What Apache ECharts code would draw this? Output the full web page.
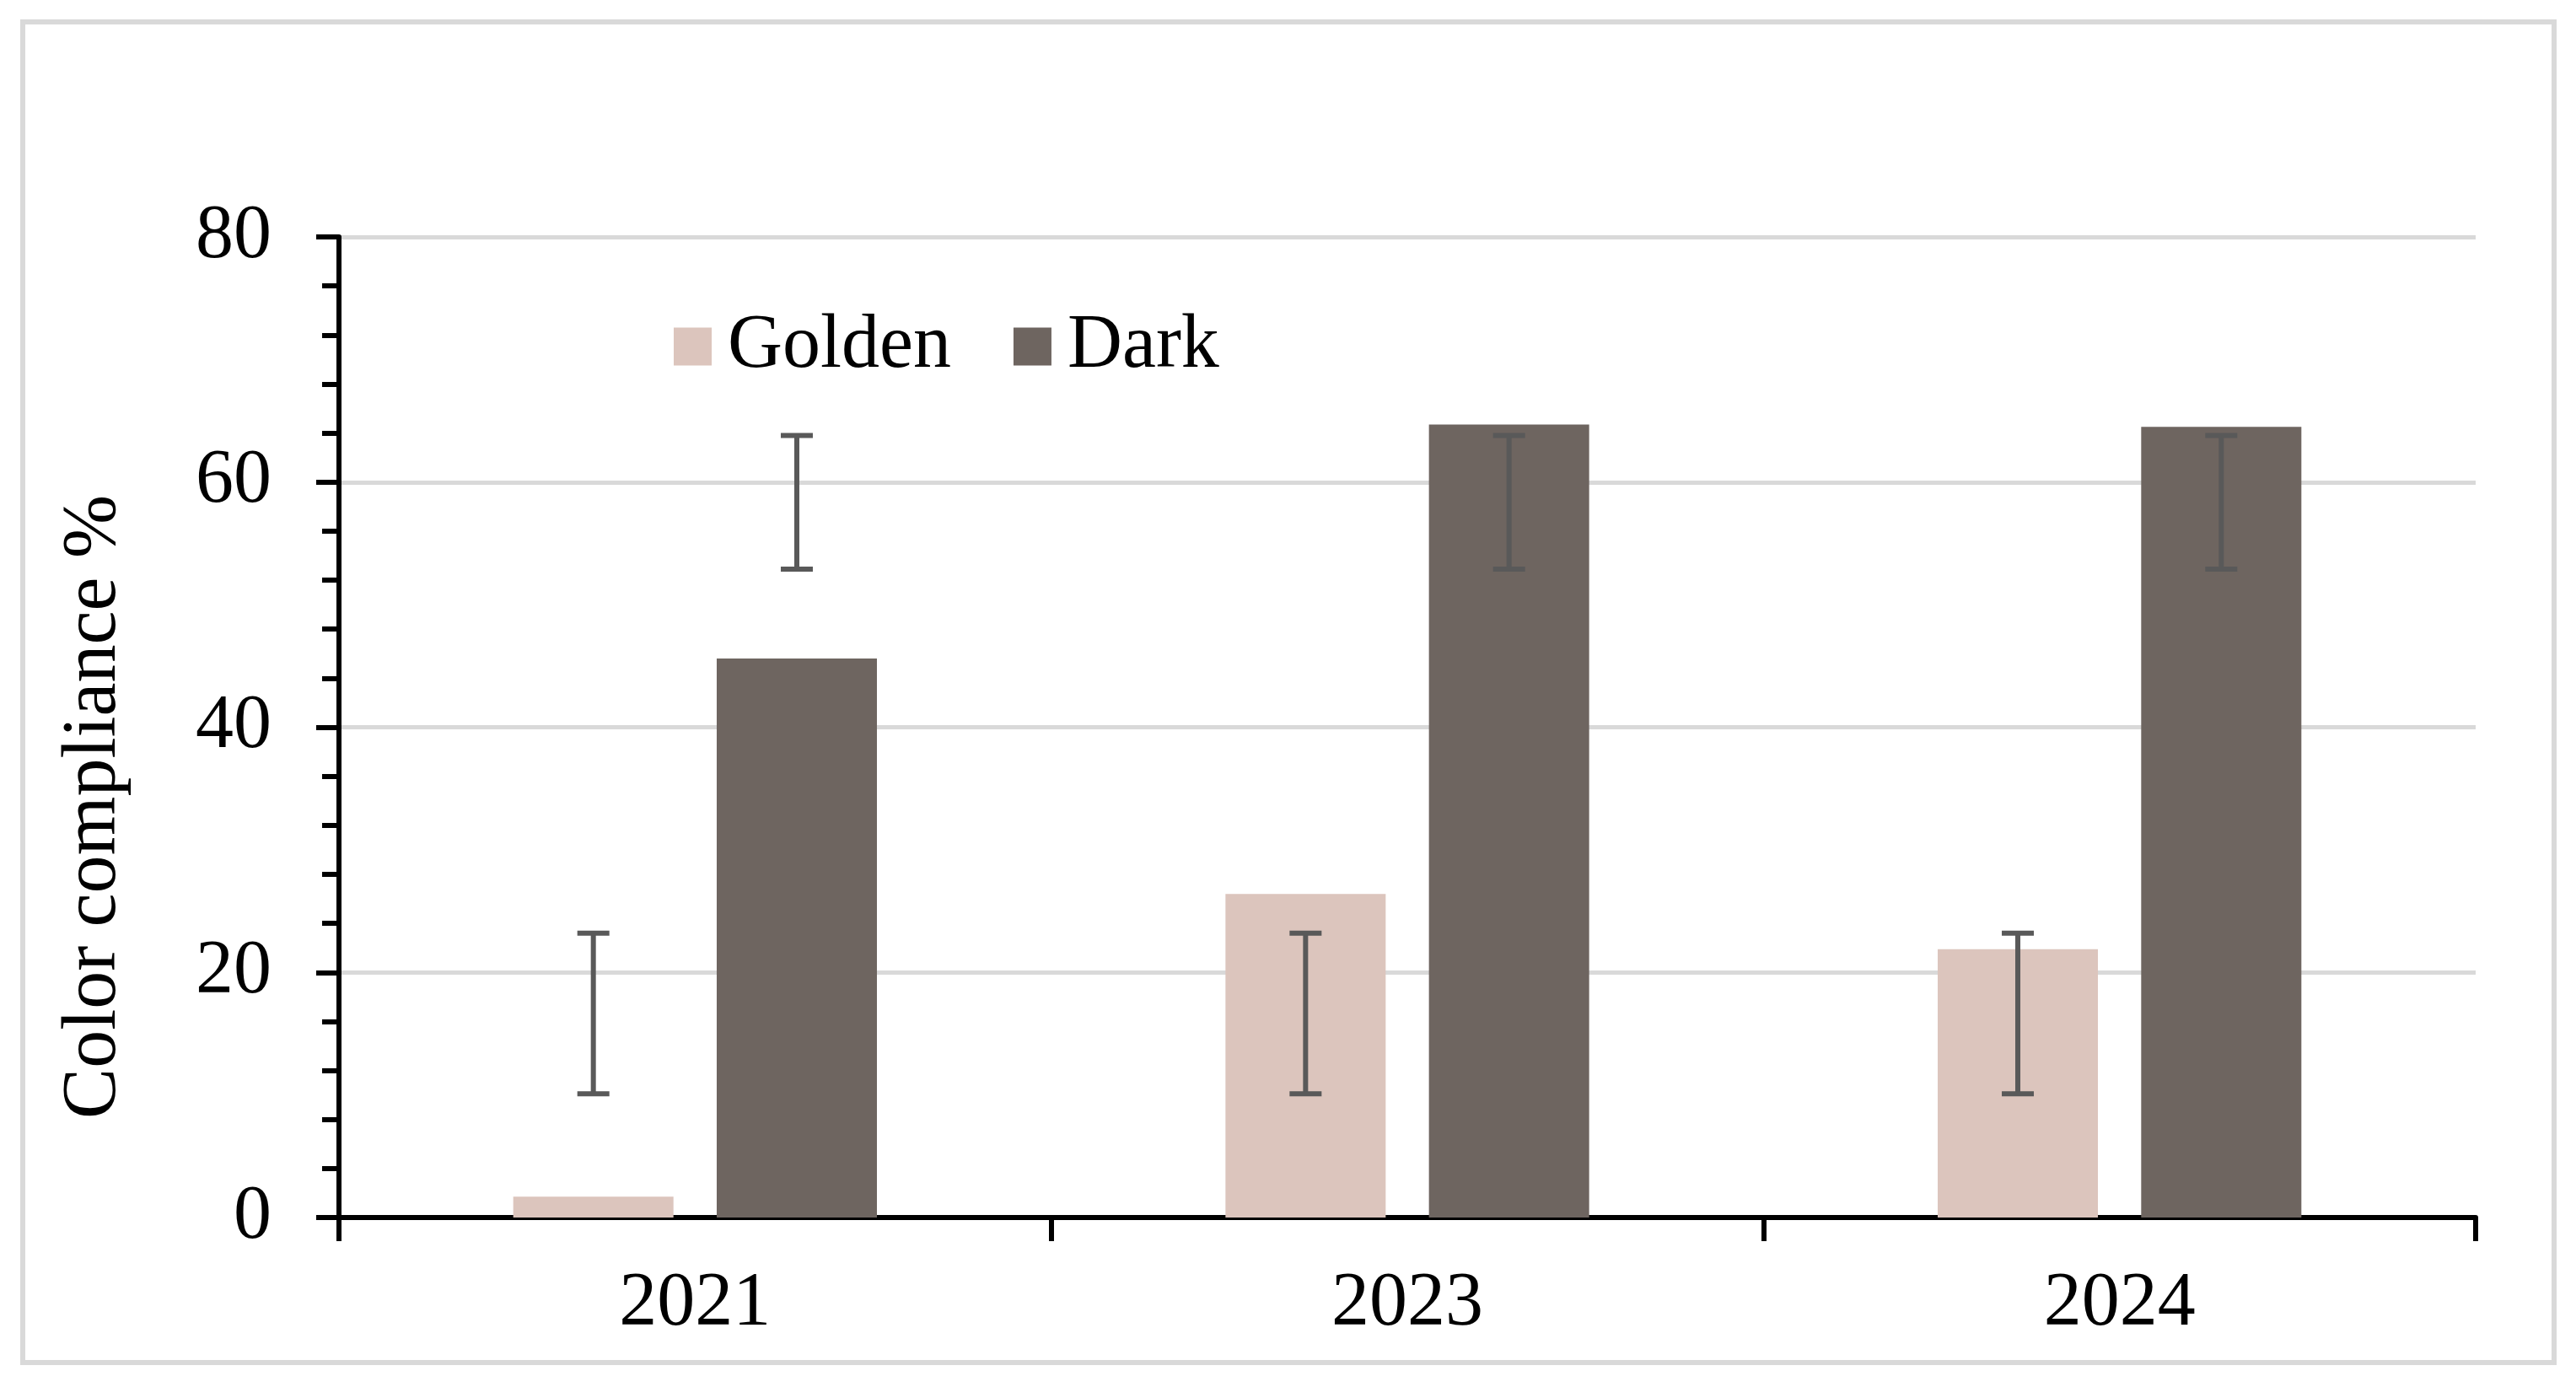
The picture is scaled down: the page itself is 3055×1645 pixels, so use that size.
<!DOCTYPE html>
<html>
<head>
<meta charset="utf-8">
<script src="https://cdn.jsdelivr.net/npm/echarts@6/dist/echarts.min.js"></script>
<style>
html,body{margin:0;padding:0;background:#fff;}
#chart{width:3055px;height:1645px;}
</style>
</head>
<body>
<div id="chart"></div>
<script>
var categories = ['2021', '2023', '2024'];
var seriesNames = ['Golden', 'Dark'];
var goldenValues = [1.7, 26.4, 21.9];
var darkValues = [45.6, 64.7, 64.5];
var goldenErrLow = [10.1, 10.1, 10.1];
var goldenErrHigh = [23.2, 23.2, 23.2];
var darkErrLow = [52.9, 52.9, 52.9];
var darkErrHigh = [63.8, 63.8, 63.8];
var yTicks = [0, 20, 40, 60, 80];
var yTitle = 'Color compliance %';

var FONT = '"Liberation Serif", "Times New Roman", serif';
var BAR_W = 190;
var BAR_GAP = '27%';

function errData(lo, hi) {
  return categories.map(function (c, i) { return [i, lo[i], hi[i]]; });
}
function errRender(seriesIdx) {
  return function (params, api) {
    var layout = api.barLayout({ barWidth: BAR_W, barGap: BAR_GAP, count: 2 });
    var off = layout[seriesIdx].offsetCenter;
    var p1 = api.coord([api.value(0), api.value(1)]);
    var p2 = api.coord([api.value(0), api.value(2)]);
    var x = p1[0] + off;
    var half = 19;
    var st = { stroke: '#595959', lineWidth: 6 };
    return {
      type: 'group',
      children: [
        { type: 'line', shape: { x1: x, y1: p1[1], x2: x, y2: p2[1] }, style: st },
        { type: 'line', shape: { x1: x - half, y1: p1[1], x2: x + half, y2: p1[1] }, style: st },
        { type: 'line', shape: { x1: x - half, y1: p2[1], x2: x + half, y2: p2[1] }, style: st }
      ]
    };
  };
}

var chart = echarts.init(document.getElementById('chart'));
chart.setOption({
  animation: false,
  backgroundColor: '#ffffff',
  graphic: [
    {
      type: 'rect',
      shape: { x: 27, y: 26, width: 3002, height: 1590 },
      style: { fill: 'none', stroke: '#d9d9d9', lineWidth: 6 },
      z: -10
    },
    {
      type: 'text',
      x: 112,
      y: 957,
      rotation: Math.PI / 2,
      style: {
        text: yTitle,
        font: '90px ' + FONT,
        fill: '#000',
        textAlign: 'center',
        textVerticalAlign: 'middle'
      }
    }
  ],
  legend: {
    data: seriesNames,
    left: 799,
    top: 366,
    padding: 0,
    itemWidth: 45,
    itemHeight: 45,
    itemGap: 74,
    icon: 'rect',
    textStyle: { fontFamily: FONT, fontSize: 90, color: '#000', padding: [0, 0, 0, 14] }
  },
  grid: { left: 402, right: 119, top: 281, bottom: 201, containLabel: false },
  xAxis: {
    type: 'category',
    data: categories,
    boundaryGap: true,
    axisLine: { show: true, lineStyle: { color: '#000', width: 6 } },
    axisTick: { show: true, length: 28, inside: false, lineStyle: { color: '#000', width: 6 } },
    axisLabel: { fontFamily: FONT, fontSize: 90, color: '#000', margin: 58 },
    splitLine: { show: false }
  },
  yAxis: {
    type: 'value',
    min: 0,
    max: 80,
    interval: 20,
    axisLine: { show: true, lineStyle: { color: '#000', width: 6 } },
    axisTick: { show: true, length: 27, inside: false, lineStyle: { color: '#000', width: 6 } },
    minorTick: { show: true, splitNumber: 5, length: 20, lineStyle: { color: '#000', width: 6 } },
    axisLabel: {
      fontFamily: FONT, fontSize: 90, color: '#000', margin: 80,
      formatter: function (v) { return yTicks.indexOf(v) >= 0 ? String(v) : ''; }
    },
    splitLine: { show: true, lineStyle: { color: '#d9d9d9', width: 5 } }
  },
  series: [
    {
      name: 'Golden', type: 'bar', data: goldenValues,
      barWidth: BAR_W, barGap: BAR_GAP,
      itemStyle: { color: '#dcc5bd' }, z: 2
    },
    {
      name: 'Dark', type: 'bar', data: darkValues,
      barWidth: BAR_W, barGap: BAR_GAP,
      itemStyle: { color: '#6e6560' }, z: 2
    },
    {
      type: 'custom', name: 'GoldenErr', data: errData(goldenErrLow, goldenErrHigh),
      renderItem: errRender(0), encode: { x: 0, y: [1, 2] }, z: 5, silent: true
    },
    {
      type: 'custom', name: 'DarkErr', data: errData(darkErrLow, darkErrHigh),
      renderItem: errRender(1), encode: { x: 0, y: [1, 2] }, z: 5, silent: true
    }
  ]
});
</script>
</body>
</html>
